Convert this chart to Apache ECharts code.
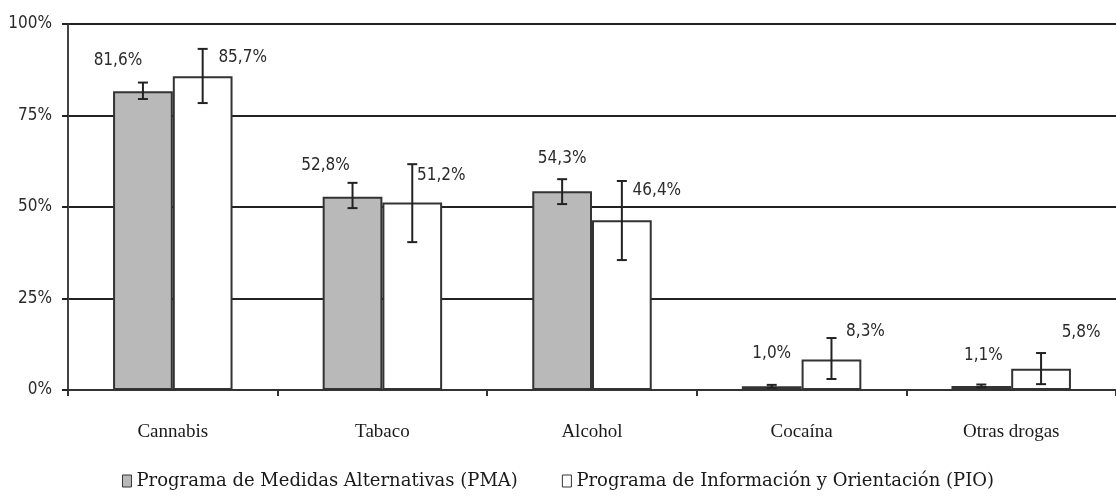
<!DOCTYPE html>
<html>
<head>
<meta charset="utf-8">
<script src="https://cdn.jsdelivr.net/npm/echarts@6/dist/echarts.min.js"></script>
<style>
  html, body { margin: 0; padding: 0; background: #fff; }
  #main { width: 1116px; height: 497px; }
</style>
</head>
<body>
<div id="main"></div>
<script>
// datos
const categorias = ['Cannabis', 'Tabaco', 'Alcohol', 'Cocaína', 'Otras drogas'];
const pmaValores = [81.6, 52.8, 54.3, 1.0, 1.1];
const pioValores = [85.7, 51.2, 46.4, 8.3, 5.8];
// intervalos de error [bajo, alto]
const pmaError = [[79.5, 84.0], [49.7, 56.6], [50.8, 57.6], [0.6, 1.4], [0.7, 1.5]];
const pioError = [[78.4, 93.2], [40.4, 61.7], [35.5, 57.1], [3.0, 14.2], [1.6, 10.1]];
const yTicks = [0, 25, 50, 75, 100];

// desplazamiento de las etiquetas (como estaban colocadas a mano)
const pmaLabelShift = [[-25, -17], [-27, -18], [0, -19], [0, -19], [2, -17]];
const pioLabelShift = [[40, -5], [29, -14], [35, -16], [34, -15], [40, -23]];

const nombrePMA = 'Programa de Medidas Alternativas (PMA)';
const nombrePIO = 'Programa de Información y Orientación (PIO)';

const narrow = "'DejaVu Sans Condensed', 'Liberation Sans', sans-serif";
const serif = "'Liberation Serif', 'DejaVu Serif', serif";
const serifAncha = "'DejaVu Serif', serif";
const gapCat = 0.43;

function fmt(v) {
    return v.toFixed(1).replace('.', ',') + '%';
}

function barData(vals, shifts) {
    return vals.map((v, i) => ({
        value: v,
        label: { offset: shifts[i] }
    }));
}

function errorSeries(name, err, side) {
    return {
        name: name + ' error',
        type: 'custom',
        z: 4,
        data: err.map((e, i) => [i, e[0], e[1]]),
        encode: { x: 0, y: [1, 2] },
        renderItem: function(params, api) {
            const band = api.size([1, 0])[0];
            const off = side * band * (1 - gapCat) / 4;
            const lo = api.coord([api.value(0), api.value(1)]);
            const hi = api.coord([api.value(0), api.value(2)]);
            const x = lo[0] + off;
            const cap = 5;
            const st = { stroke: '#222', lineWidth: 2 };
            return {
                type: 'group',
                children: [
                    { type: 'line', shape: { x1: x, y1: lo[1], x2: x, y2: hi[1] }, style: st },
                    { type: 'line', shape: { x1: x - cap, y1: lo[1], x2: x + cap, y2: lo[1] }, style: st },
                    { type: 'line', shape: { x1: x - cap, y1: hi[1], x2: x + cap, y2: hi[1] }, style: st }
                ]
            };
        }
    };
}

const chart = echarts.init(document.getElementById('main'));

const labelComun = {
    show: true,
    position: 'top',
    formatter: p => fmt(p.value),
    fontFamily: narrow,
    fontSize: 17,
    color: '#2a2a2a'
};

const option = {
    animation: false,
    backgroundColor: '#fff',
    grid: {
        left: 68,
        top: 24,
        right: -2,
        bottom: 107
    },
    legend: {
        data: [nombrePMA, nombrePIO],
        top: 467,
        left: 'center',
        itemGap: 44,
        itemWidth: 9,
        itemHeight: 12,
        icon: 'rect',
        itemStyle: { borderWidth: 1, borderColor: '#333' },
        textStyle: {
            fontFamily: serifAncha,
            fontSize: 18,
            color: '#1a1a1a'
        }
    },
    xAxis: {
        type: 'category',
        data: categorias,
        axisLine: { lineStyle: { color: '#333', width: 2 } },
        axisTick: { show: true, interval: 0, length: 6, lineStyle: { color: '#333', width: 2 } },
        axisLabel: {
            interval: 0,
            margin: 33,
            fontFamily: serif,
            fontSize: 19,
            color: '#1a1a1a'
        }
    },
    yAxis: {
        type: 'value',
        min: yTicks[0],
        max: yTicks[yTicks.length - 1],
        interval: 25,
        axisLine: { show: true, lineStyle: { color: '#444', width: 2 } },
        axisTick: { show: true, length: 6, lineStyle: { color: '#222', width: 2 } },
        axisLabel: {
            formatter: '{value}%',
            margin: 16,
            fontFamily: narrow,
            fontSize: 17,
            color: '#2a2a2a'
        },
        splitLine: { show: true, lineStyle: { color: '#222', width: 2 } }
    },
    series: [
        {
            name: nombrePMA,
            type: 'bar',
            data: barData(pmaValores, pmaLabelShift),
            barGap: '0%',
            barCategoryGap: (gapCat * 100) + '%',
            itemStyle: { color: '#b9b9b9', borderColor: '#333', borderWidth: 2 },
            label: labelComun,
            z: 3
        },
        {
            name: nombrePIO,
            type: 'bar',
            data: barData(pioValores, pioLabelShift),
            barGap: '0%',
            barCategoryGap: (gapCat * 100) + '%',
            itemStyle: { color: '#ffffff', borderColor: '#333', borderWidth: 2 },
            label: labelComun,
            z: 3
        },
        errorSeries('PMA', pmaError, -1),
        errorSeries('PIO', pioError, 1)
    ]
};

chart.setOption(option);
</script>
</body>
</html>
